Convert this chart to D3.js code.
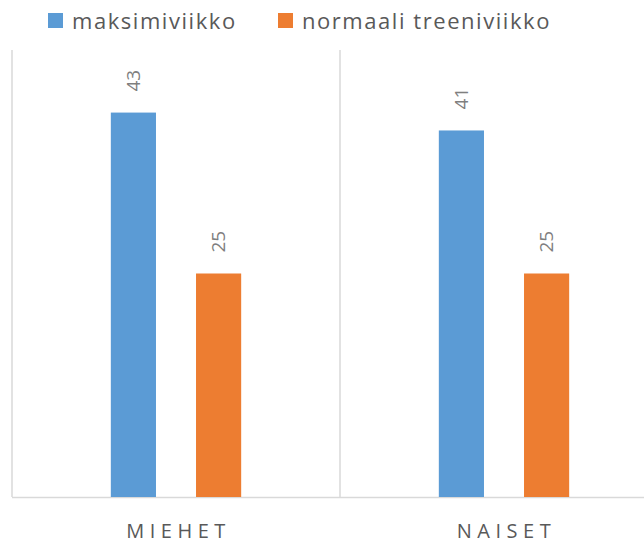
<!DOCTYPE html>
<html>
<head>
<meta charset="utf-8">
<script src="https://cdn.jsdelivr.net/npm/d3@7"></script>
<style>
  body { margin: 0; background: #fff; }
  svg { display: block; font-family: "Open Sans", "Noto Sans", sans-serif; }
</style>
</head>
<body>
<svg id="chart" width="644" height="543"></svg>
<script>
var categories = ["MIEHET", "NAISET"];
var series = ["maksimiviikko", "normaali treeniviikko"];
var values = [[43, 25], [41, 25]]; // per category: [maksimiviikko, normaali]
var colors = ["#5b9bd5", "#ed7d31"];

var w = 644, h = 543;
var plotLeft = 12, plotTop = 50, plotBottom = 497;

var svg = d3.select("#chart");

var x0 = d3.scaleBand()
    .domain(categories)
    .range([plotLeft, plotLeft + 328 * categories.length])
    .padding(0);

var x1 = d3.scaleBand()
    .domain(series)
    .range([0, x0.bandwidth()])
    .paddingInner(0.47)
    .paddingOuter(1.16);

var y = d3.scaleLinear()
    .domain([0, 50])
    .range([plotBottom, plotTop]);

// vertical separators between categories
var seps = categories.map(function(c) { return x0(c); });
svg.selectAll(".sep")
    .data(seps)
    .enter().append("line")
    .attr("x1", function(d) { return d; })
    .attr("x2", function(d) { return d; })
    .attr("y1", plotTop)
    .attr("y2", plotBottom)
    .attr("stroke", "#d9d9d9")
    .attr("stroke-width", 1.5);

// baseline
svg.append("line")
    .attr("x1", plotLeft)
    .attr("x2", w)
    .attr("y1", plotBottom + 0.5)
    .attr("y2", plotBottom + 0.5)
    .attr("stroke", "#d9d9d9")
    .attr("stroke-width", 1.5);

var groups = svg.selectAll(".cat")
    .data(categories)
    .enter().append("g")
    .attr("transform", function(d) { return "translate(" + x0(d) + ",0)"; });

function rows(d, i) {
    return values[i].map(function(v, j) { return {s: series[j], v: v, j: j}; });
}

groups.selectAll("rect")
    .data(rows)
    .enter().append("rect")
    .attr("x", function(d) { return x1(d.s); })
    .attr("y", function(d) { return y(d.v); })
    .attr("width", x1.bandwidth())
    .attr("height", function(d) { return plotBottom - y(d.v); })
    .attr("fill", function(d) { return colors[d.j]; });

groups.selectAll(".lbl")
    .data(rows)
    .enter().append("text")
    .attr("class", "lbl")
    .attr("transform", function(d) {
        return "translate(" + (x1(d.s) + x1.bandwidth() / 2) + "," + (y(d.v) - 21) + ") rotate(-90)";
    })
    .attr("dy", "0.36em")
    .attr("text-anchor", "start")
    .style("font-size", "19px")
    .style("fill", "#7f7f7f")
    .text(function(d) { return d.v; });

// category labels
svg.selectAll(".catlbl")
    .data(categories)
    .enter().append("text")
    .attr("x", function(d) { return x0(d) + x0.bandwidth() / 2 + 2.5; })
    .attr("y", 537.5)
    .attr("text-anchor", "middle")
    .style("font-size", "20px")
    .style("letter-spacing", "5.5px")
    .style("fill", "#595959")
    .text(function(d) { return d; });

// legend
var legX = [48, 278];
var legend = svg.selectAll(".leg")
    .data(series)
    .enter().append("g")
    .attr("transform", function(d, i) { return "translate(" + legX[i] + ",0)"; });

legend.append("rect")
    .attr("x", 0)
    .attr("y", 13)
    .attr("width", 15)
    .attr("height", 15)
    .attr("fill", function(d, i) { return colors[i]; });

legend.append("text")
    .attr("x", 24)
    .attr("y", 29)
    .style("font-size", "22px")
    .style("letter-spacing", "1.55px")
    .style("fill", "#595959")
    .text(function(d) { return d; });
</script>
</body>
</html>
